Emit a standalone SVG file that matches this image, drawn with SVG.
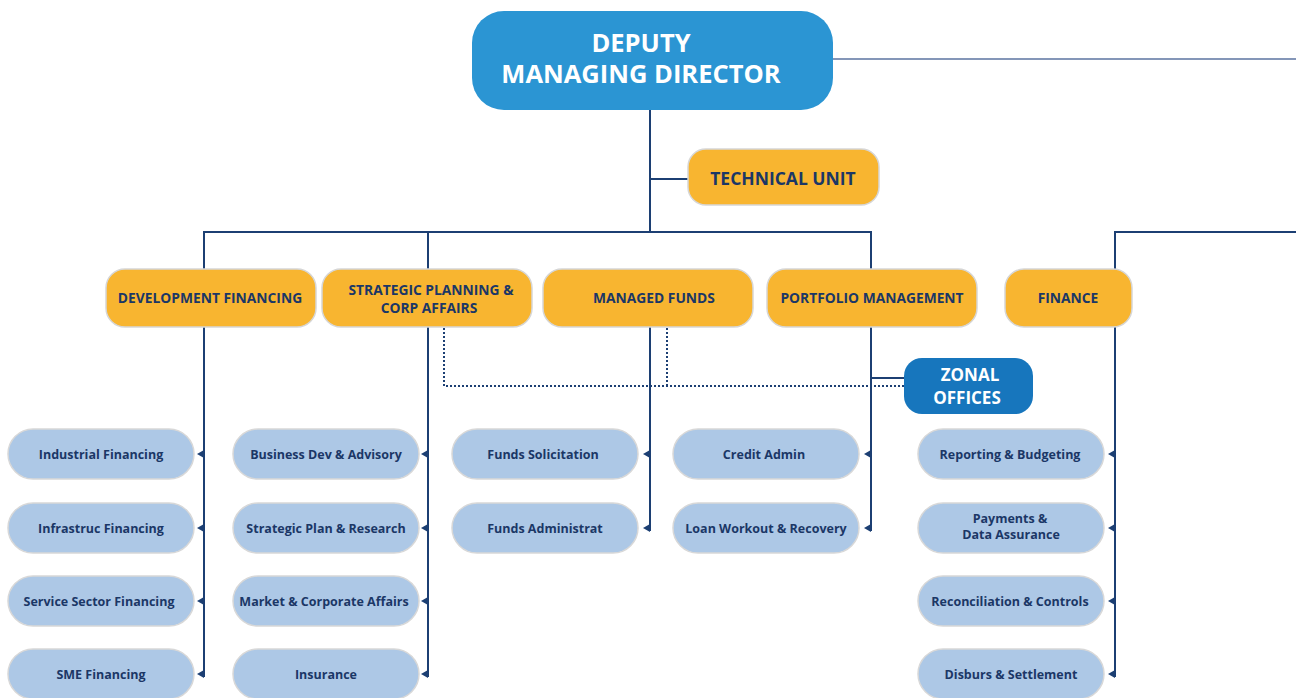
<svg xmlns="http://www.w3.org/2000/svg" width="1296" height="698" viewBox="0 0 1296 698">
<defs>
<style>
.conn{fill:none;stroke:#1c3f73;stroke-width:2}
.thin{fill:none;stroke:#5b73a0;stroke-width:1.5}
.dot{fill:none;stroke:#1c3f73;stroke-width:2;stroke-dasharray:2 2}
.arr{fill:#1c3f73}
.dmd{fill:#2b95d3}
.org{fill:#f8b530;stroke:#d6d6d6;stroke-width:1.5}
.zon{fill:#1776bd}
.leaf{fill:#adc8e6;stroke:#d8d8d8;stroke-width:1.5}
text{font-family:"Open Sans","Liberation Sans",sans-serif;font-weight:700;text-anchor:middle}
.tw{fill:#ffffff}
.tb{fill:#1b3766}
.t1{font-size:25.5px}
.t2{font-size:17.5px}
.t5{font-size:17px}
.t3{font-size:13.8px}
.t4{font-size:12.5px}
</style>
</defs>
<g id="connectors">
<path class="thin" d="M833 59 H1296"/>
<path class="conn" d="M650 110 V232"/>
<path class="conn" d="M650 179 H688"/>
<path class="conn" d="M204 270 V232 H871 V270"/>
<path class="conn" d="M428 232 V270"/>
<path class="conn" d="M1115 270 V232 H1296"/>
<path class="conn" d="M204 327 V677"/>
<path class="conn" d="M428 327 V677"/>
<path class="conn" d="M650 327 V531"/>
<path class="conn" d="M871 327 V531"/>
<path class="conn" d="M1115 327 V677"/>
<path class="conn" d="M871 378 H904"/>
<path class="dot" d="M444 328 V386 H904"/>
<path class="dot" d="M667 328 V386"/>
<path class="arr" d="M197 454 L204 450 L204 458 Z"/>
<path class="arr" d="M197 528 L204 524 L204 532 Z"/>
<path class="arr" d="M197 601 L204 597 L204 605 Z"/>
<path class="arr" d="M197 674 L204 670 L204 678 Z"/>
<path class="arr" d="M421 454 L428 450 L428 458 Z"/>
<path class="arr" d="M421 528 L428 524 L428 532 Z"/>
<path class="arr" d="M421 601 L428 597 L428 605 Z"/>
<path class="arr" d="M421 674 L428 670 L428 678 Z"/>
<path class="arr" d="M643 454 L650 450 L650 458 Z"/>
<path class="arr" d="M643 528 L650 524 L650 532 Z"/>
<path class="arr" d="M864 454 L871 450 L871 458 Z"/>
<path class="arr" d="M864 528 L871 524 L871 532 Z"/>
<path class="arr" d="M1108 454 L1115 450 L1115 458 Z"/>
<path class="arr" d="M1108 528 L1115 524 L1115 532 Z"/>
<path class="arr" d="M1108 601 L1115 597 L1115 605 Z"/>
<path class="arr" d="M1108 674 L1115 670 L1115 678 Z"/>
</g>
<g id="dmd"><rect class="dmd" x="472" y="11" width="361" height="99" rx="32"/><text class="tw t1" x="641" y="52">DEPUTY</text><text class="tw t1" x="641" y="83">MANAGING DIRECTOR</text></g>
<g id="technical-unit"><rect class="org" x="688" y="149" width="191" height="56" rx="18"/><text class="tb t2" x="783" y="185">TECHNICAL UNIT</text></g>
<g id="development-financing"><rect class="org" x="106" y="269" width="210" height="58" rx="19"/><text class="tb t3" x="210" y="303">DEVELOPMENT FINANCING</text></g>
<g id="strategic-planning"><rect class="org" x="322" y="269" width="210" height="58" rx="19"/><text class="tb t3" x="431" y="295">STRATEGIC PLANNING &amp;</text><text class="tb t3" x="429" y="313">CORP AFFAIRS</text></g>
<g id="managed-funds"><rect class="org" x="543" y="269" width="210" height="58" rx="19"/><text class="tb t3" x="654" y="303">MANAGED FUNDS</text></g>
<g id="portfolio-management"><rect class="org" x="767" y="269" width="210" height="58" rx="19"/><text class="tb t3" x="872" y="303">PORTFOLIO MANAGEMENT</text></g>
<g id="finance"><rect class="org" x="1005" y="269" width="127" height="58" rx="19"/><text class="tb t3" x="1068" y="303">FINANCE</text></g>
<g id="zonal-offices"><rect class="zon" x="904" y="358" width="129" height="56" rx="18"/><text class="tw t5" x="970" y="381">ZONAL</text><text class="tw t5" x="967" y="404">OFFICES</text></g>
<g id="industrial-financing"><rect class="leaf" x="8" y="429" width="186" height="50" rx="25"/><text class="tb t4" x="101" y="458.5">Industrial Financing</text></g>
<g id="infrastruc-financing"><rect class="leaf" x="8" y="503" width="186" height="50" rx="25"/><text class="tb t4" x="101" y="532.5">Infrastruc Financing</text></g>
<g id="service-sector-financing"><rect class="leaf" x="8" y="576" width="186" height="50" rx="25"/><text class="tb t4" x="99" y="605.5">Service Sector Financing</text></g>
<g id="sme-financing"><rect class="leaf" x="8" y="649" width="186" height="50" rx="25"/><text class="tb t4" x="101" y="678.5">SME Financing</text></g>
<g id="business-dev"><rect class="leaf" x="233" y="429" width="186" height="50" rx="25"/><text class="tb t4" x="326" y="458.5">Business Dev &amp; Advisory</text></g>
<g id="strategic-plan-research"><rect class="leaf" x="233" y="503" width="186" height="50" rx="25"/><text class="tb t4" x="326" y="532.5">Strategic Plan &amp; Research</text></g>
<g id="market-corporate-affairs"><rect class="leaf" x="233" y="576" width="186" height="50" rx="25"/><text class="tb t4" x="324" y="605.5">Market &amp; Corporate Affairs</text></g>
<g id="insurance"><rect class="leaf" x="233" y="649" width="186" height="50" rx="25"/><text class="tb t4" x="326" y="678.5">Insurance</text></g>
<g id="funds-solicitation"><rect class="leaf" x="452" y="429" width="186" height="50" rx="25"/><text class="tb t4" x="543" y="458.5">Funds Solicitation</text></g>
<g id="funds-administrat"><rect class="leaf" x="452" y="503" width="186" height="50" rx="25"/><text class="tb t4" x="545" y="532.5">Funds Administrat</text></g>
<g id="credit-admin"><rect class="leaf" x="673" y="429" width="186" height="50" rx="25"/><text class="tb t4" x="764" y="458.5">Credit Admin</text></g>
<g id="loan-workout"><rect class="leaf" x="673" y="503" width="186" height="50" rx="25"/><text class="tb t4" x="766" y="532.5">Loan Workout &amp; Recovery</text></g>
<g id="reporting-budgeting"><rect class="leaf" x="918" y="429" width="186" height="50" rx="25"/><text class="tb t4" x="1010" y="458.5">Reporting &amp; Budgeting</text></g>
<g id="payments-data-assurance"><rect class="leaf" x="918" y="503" width="186" height="50" rx="25"/><text class="tb t4" x="1010" y="523">Payments &amp;</text><text class="tb t4" x="1011" y="539">Data Assurance</text></g>
<g id="reconciliation-controls"><rect class="leaf" x="918" y="576" width="186" height="50" rx="25"/><text class="tb t4" x="1010" y="605.5">Reconciliation &amp; Controls</text></g>
<g id="disburs-settlement"><rect class="leaf" x="918" y="649" width="186" height="50" rx="25"/><text class="tb t4" x="1011" y="678.5">Disburs &amp; Settlement</text></g>
</svg>
